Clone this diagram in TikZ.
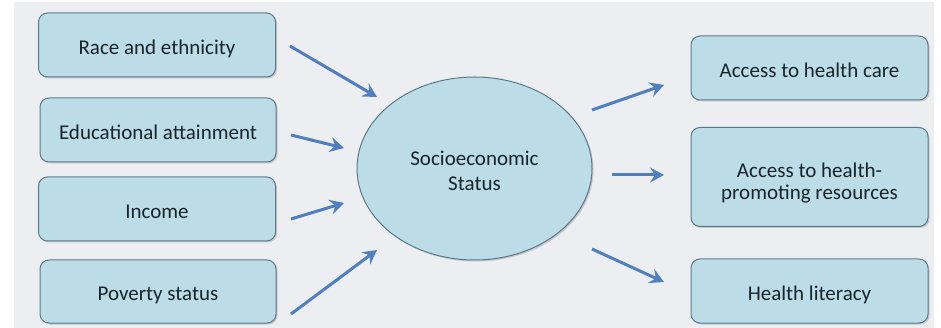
\documentclass[tikz,border=0pt]{standalone}
\usepackage{fontspec}
\setmainfont{Carlito}
\usetikzlibrary{arrows.meta,shadows,shapes.geometric}
\definecolor{bgpanel}{HTML}{ECEEF1}
\definecolor{boxfill}{HTML}{BCDDE7}
\definecolor{boxline}{HTML}{5A7A8C}
\definecolor{arrowblue}{HTML}{4F7FBF}
\definecolor{txt}{HTML}{18242B}
\newcommand{\lowtext}[2]{\raisebox{#1}[0pt][0pt]{\begin{tabular}{@{}c@{}}#2\end{tabular}}}
\tikzset{
  factor/.style={draw=boxline, line width=1pt, fill=boxfill, rounded corners=9pt,
    text=txt, font=\fontsize{21}{23}\selectfont, align=center, inner sep=0pt,
    drop shadow={shadow xshift=1.5pt, shadow yshift=-1.5pt, opacity=0.35, fill=gray}},
  link/.style={draw=arrowblue, line width=3pt,
    -{Stealth[length=14pt,width=15pt,inset=5pt]}}
}
\begin{document}
\begin{tikzpicture}[x=1pt,y=-1pt]
\useasboundingbox (0,0) rectangle (941,328);
\fill[white] (0,0) rectangle (941,328);
\fill[bgpanel] (14,2) rectangle (934,328);
% left boxes
\node[factor, minimum width=237pt, minimum height=64pt] (race) at (157,45) {\lowtext{-9.7pt}{Race and ethnicity}};
\node[factor, minimum width=236pt, minimum height=64pt] (edu) at (158,130) {\lowtext{-9.7pt}{Educational attainment}};
\node[factor, minimum width=237pt, minimum height=64pt] (inc) at (157,209) {\lowtext{-9.7pt}{Income}};
\node[factor, minimum width=236pt, minimum height=63pt] (pov) at (158,291.5) {\lowtext{-9.7pt}{Poverty status}};
% right boxes
\node[factor, minimum width=237pt, minimum height=64pt] (hc) at (809.5,68) {\lowtext{-9.7pt}{Access to health care}};
\node[factor, minimum width=237pt, minimum height=99pt, font=\fontsize{21}{22}\selectfont] (hp) at (809.5,177) {\lowtext{-12pt}{Access to health-\\promoting resources}};
\node[factor, minimum width=237pt, minimum height=64pt] (hl) at (809.5,291) {\lowtext{-9.7pt}{Health literacy}};
% center ellipse
\node[draw=boxline, line width=1pt, fill=boxfill, ellipse, minimum width=235pt, minimum height=183pt,
  inner sep=0pt, text=txt, font=\fontsize{21}{25}\selectfont, align=center,
  drop shadow={shadow xshift=1.5pt, shadow yshift=-1.5pt, opacity=0.35, fill=gray}]
  (ses) at (474.5,168.5) {\lowtext{-9.2pt}{Socioeconomic\\Status}};
% arrow end points
\coordinate (a1s) at (290,46);  \coordinate (a1e) at (377,97);
\coordinate (a2s) at (291,135); \coordinate (a2e) at (344,148);
\coordinate (a3s) at (291,219); \coordinate (a3e) at (344,203);
\coordinate (a4s) at (291,314); \coordinate (a4e) at (377,250);
\coordinate (b1s) at (592,110); \coordinate (b1e) at (664,85);
\coordinate (b2s) at (612,175); \coordinate (b2e) at (664,175);
\coordinate (b3s) at (592,249); \coordinate (b3e) at (664,282);
\draw[link] (a1s) -- (a1e);
\draw[link] (a2s) -- (a2e);
\draw[link] (a3s) -- (a3e);
\draw[link] (a4s) -- (a4e);
\draw[link] (b1s) -- (b1e);
\draw[link] (b2s) -- (b2e);
\draw[link] (b3s) -- (b3e);
\end{tikzpicture}
\end{document}
